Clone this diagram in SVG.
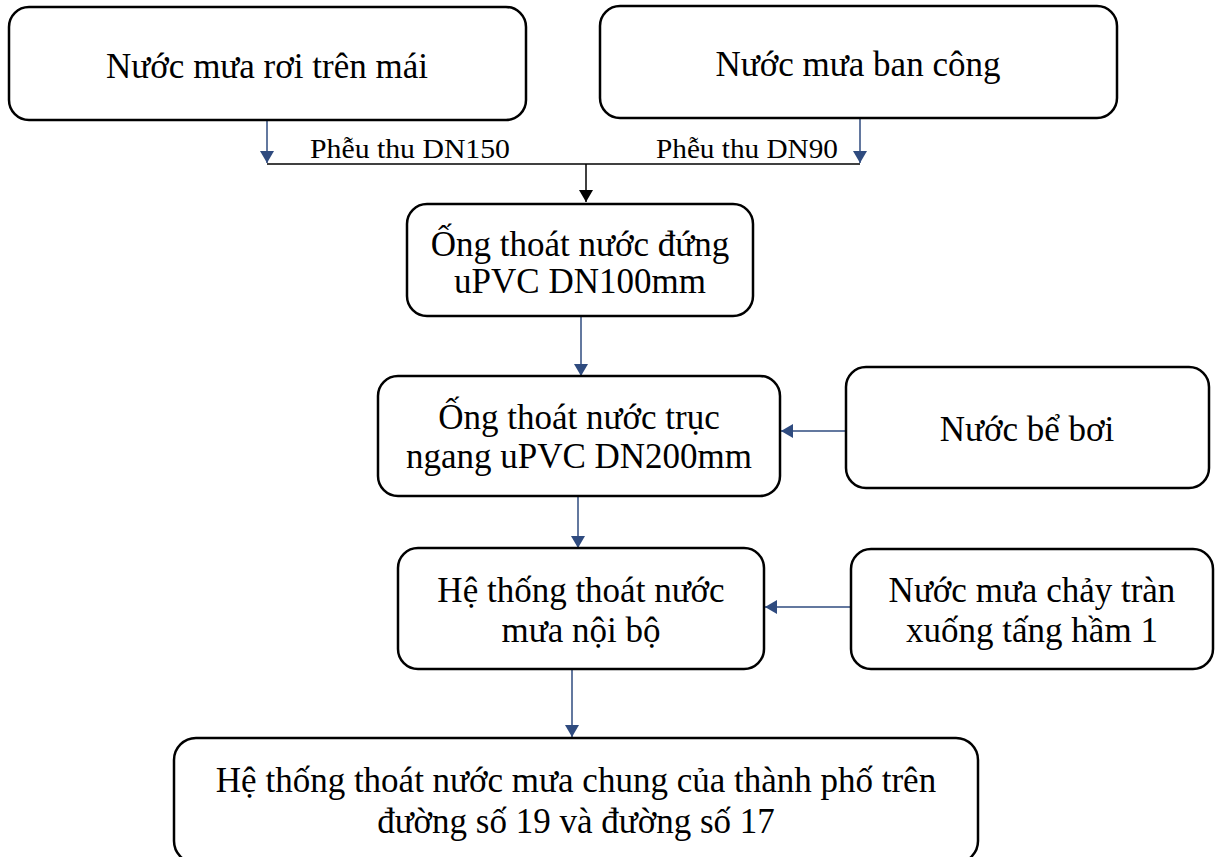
<svg xmlns="http://www.w3.org/2000/svg" width="1221" height="857" viewBox="0 0 1221 857">
<style>
.box{fill:#fff;stroke:#000;stroke-width:2.5}
.t{font-family:"Liberation Serif","Times New Roman",serif;font-size:35px;fill:#000;text-anchor:middle}
.lbl{font-family:"Liberation Serif","Times New Roman",serif;font-size:28px;fill:#000}
.c{stroke:#2F4B7F;stroke-width:1.5;fill:none}
.k{stroke:#000;stroke-width:1.5;fill:none}
</style>
<defs>
<marker id="ab" markerWidth="12" markerHeight="14" refX="12" refY="7" orient="auto" markerUnits="userSpaceOnUse" viewBox="0 0 12 14">
<path d="M0,0 L12,7 L0,14 Z" fill="#2F4B7F"/>
</marker>
<marker id="ak" markerWidth="12" markerHeight="14" refX="12" refY="7" orient="auto" markerUnits="userSpaceOnUse" viewBox="0 0 12 14">
<path d="M0,0 L12,7 L0,14 Z" fill="#000"/>
</marker>
</defs>
<g id="connectors">
<line class="c" x1="267" y1="120" x2="267" y2="163" marker-end="url(#ab)"/>
<line class="c" x1="860" y1="118" x2="860" y2="163" marker-end="url(#ab)"/>
<line class="k" x1="267" y1="164" x2="860" y2="164"/>
<line class="k" x1="586" y1="164" x2="586" y2="202" marker-end="url(#ak)"/>
<line class="c" x1="581" y1="316" x2="581" y2="376" marker-end="url(#ab)"/>
<line class="c" x1="846" y1="431" x2="781" y2="431" marker-end="url(#ab)"/>
<line class="c" x1="578" y1="496" x2="578" y2="548" marker-end="url(#ab)"/>
<line class="c" x1="851" y1="607" x2="765" y2="607" marker-end="url(#ab)"/>
<line class="c" x1="572" y1="669" x2="572" y2="737" marker-end="url(#ab)"/>
<text class="lbl" x="310" y="158" textLength="200" lengthAdjust="spacingAndGlyphs">Phễu thu DN150</text>
<text class="lbl" x="656" y="158" textLength="182" lengthAdjust="spacingAndGlyphs">Phễu thu DN90</text>
</g>
<g id="n1"><rect class="box" x="9" y="7" width="517" height="113" rx="20"/><text class="t" x="267" y="78">Nước mưa rơi trên mái</text></g>
<g id="n2"><rect class="box" x="600" y="6" width="517" height="112" rx="20"/><text class="t" x="858" y="76">Nước mưa ban công</text></g>
<g id="n3"><rect class="box" x="407" y="204" width="346" height="112" rx="20"/><text class="t" x="580" y="256">Ống thoát nước đứng</text><text class="t" x="580" y="293">uPVC DN100mm</text></g>
<g id="n4"><rect class="box" x="378" y="376" width="402" height="120" rx="20"/><text class="t" x="579" y="429">Ống thoát nước trục</text><text class="t" x="579" y="468">ngang uPVC DN200mm</text></g>
<g id="n5"><rect class="box" x="846" y="367" width="363" height="121" rx="20"/><text class="t" x="1027" y="441">Nước bể bơi</text></g>
<g id="n6"><rect class="box" x="398" y="548" width="366" height="121" rx="20"/><text class="t" x="581" y="602">Hệ thống thoát nước</text><text class="t" x="581" y="642">mưa nội bộ</text></g>
<g id="n7"><rect class="box" x="851" y="549" width="362" height="120" rx="20"/><text class="t" x="1032" y="602">Nước mưa chảy tràn</text><text class="t" x="1032" y="642">xuống tấng hầm 1</text></g>
<g id="n8"><rect class="box" x="174" y="738" width="804" height="125" rx="22"/><text class="t" x="576" y="792">Hệ thống thoát nước mưa chung của thành phố trên</text><text class="t" x="576" y="833">đường số 19 và đường số 17</text></g>
</svg>
